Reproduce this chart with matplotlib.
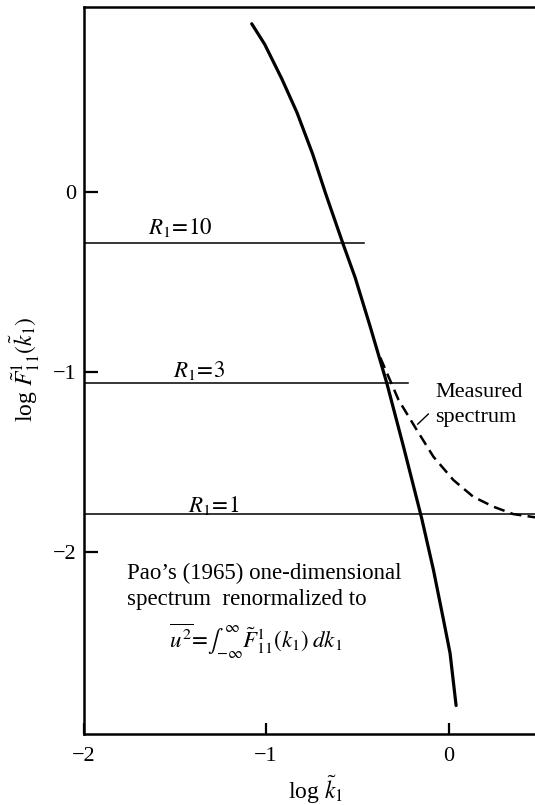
import matplotlib
matplotlib.use("Agg")
import matplotlib.pyplot as plt

plt.rcParams['font.family'] = 'serif'
plt.rcParams['font.serif'] = ['Liberation Serif']
plt.rcParams['mathtext.fontset'] = 'stix'

# Pao (1965) spectrum, renormalized (log k1, log F11)
pao_x = [-1.079, -1.008, -0.915, -0.831, -0.746, -0.672, -0.578, -0.513,
         -0.430, -0.339, -0.248, -0.148, -0.084, -0.029, 0.007, 0.040]
pao_y = [0.932, 0.818, 0.628, 0.439, 0.211, -0.017, -0.292, -0.475,
         -0.749, -1.063, -1.414, -1.813, -2.098, -2.375, -2.560, -2.85]

# Measured spectrum (dashed)
meas_x = [-0.375, -0.275, -0.175, -0.084, 0.025, 0.134, 0.244, 0.353, 0.472]
meas_y = [-0.92, -1.155, -1.322, -1.470, -1.599, -1.692, -1.747, -1.788, -1.806]

# Reynolds-number levels
level_y = [-0.285, -1.06, -1.79]
level_xend = [-0.465, -0.226, 0.472]
level_labels = ['$R_1\\!=\\!10$', '$R_1\\!=\\!3$', '$R_1\\!=\\!1$']
level_label_x = [-1.468, -1.37, -1.29]
level_label_y = [-0.196, -0.993, -1.74]

x_ticks = [-2, -1, 0]
x_ticklabels = ['\u22122', '\u22121', '0']
y_ticks = [0, -1, -2]
y_ticklabels = ['0', '\u22121', '\u22122']

W, H = 535, 805
fig = plt.figure(figsize=(W / 100, H / 100), dpi=100)
ax = fig.add_axes([83.5 / W, 1 - 734 / H, 1 - 83.5 / W, (734 - 6.8) / H])

ax.set_xlim(-2, 0.472)
ax.set_ylim(-3.008, 1.026)

ax.plot(pao_x, pao_y, color='black', lw=2.3, solid_capstyle='round',
        solid_joinstyle='round')
ax.plot(meas_x, meas_y, color='black', lw=1.8, dashes=(4.5, 2.5))

for yv, xe, lab, lx, ly in zip(level_y, level_xend, level_labels,
                               level_label_x, level_label_y):
    ax.plot([-2, xe], [yv, yv], color='black', lw=1.1)
    ax.text(lx, ly, lab, ha='center', va='center', fontsize=16.5)

# Measured spectrum annotation
ax.text(-0.075, -1.116, 'Measured', ha='left', va='center', fontsize=16)
ax.text(-0.075, -1.250, 'spectrum', ha='left', va='center', fontsize=16)
ax.plot([-0.112, -0.170], [-1.233, -1.289], color='black', lw=1.0)

# Pao text
ax.text(-1.762, -2.120, "Pao\u2019s (1965) one-dimensional", ha='left',
        va='center', fontsize=16.5)
ax.text(-1.762, -2.263, "spectrum  renormalized to", ha='left',
        va='center', fontsize=16.5)
ax.text(-1.058, -2.490,
        r'$\overline{u^2}\!=\!\int_{-\infty}^{\infty}\tilde{F}^{1}_{11}(k_1)\;dk_1$',
        ha='center', va='center', fontsize=16.5)

for s in ['left', 'bottom', 'top']:
    ax.spines[s].set_linewidth(1.8)
ax.spines['right'].set_visible(False)

ax.set_xticks(x_ticks)
ax.set_xticklabels(x_ticklabels, fontsize=16)
ax.set_yticks(y_ticks)
ax.set_yticklabels(y_ticklabels, fontsize=16)
ax.tick_params(axis='x', direction='in', length=8, width=1.6, pad=9)
ax.tick_params(axis='y', direction='in', length=10, width=1.6, pad=5)
ax.tick_params(top=False, right=False)

fig.text(25 / W, 1 - 369 / H, r'log $\tilde{F}^{1}_{11}(\tilde{k}_1)$',
         rotation=90, ha='center', va='center', fontsize=17)
fig.text(316 / W, 1 - 790 / H, r'log $\tilde{k}_1$', ha='center',
         va='center', fontsize=17)

fig.savefig('out.png', dpi=100)
